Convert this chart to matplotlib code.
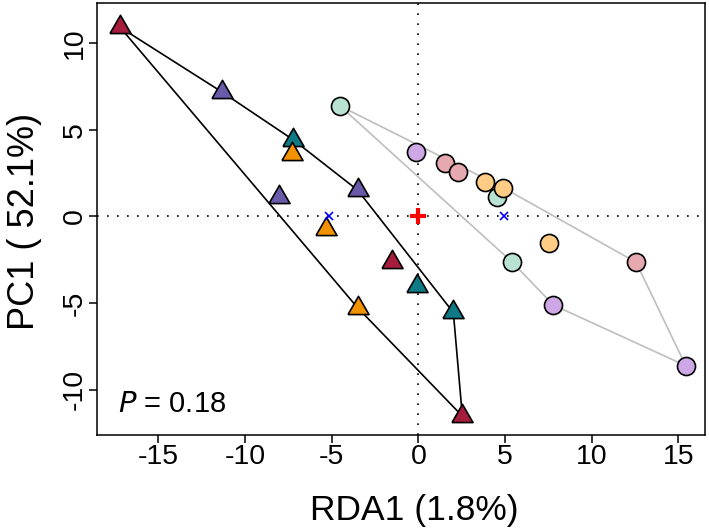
import matplotlib.pyplot as plt
import numpy as np

plt.rcParams["font.family"] = ["Liberation Sans", "DejaVu Sans"]

# triangle groups (x = RDA1, y = PC1)
tri_groups = ["crimson", "purple", "teal", "orange"]
tri_colors = ["#A51C3C", "#6A5AAA", "#0E7A86", "#F39200"]
tri_x = [
    [-17.21, -1.50, 2.54],
    [-11.31, -8.04, -3.50],
    [-7.21, -0.09, 2.02],
    [-7.27, -5.33, -3.50],
]
tri_y = [
    [10.92, -2.60, -11.52],
    [7.17, 1.10, 1.52],
    [4.42, -4.01, -5.54],
    [3.59, -0.72, -5.27],
]

# circle groups
circ_groups = ["mint", "lavender", "pink", "peach"]
circ_colors = ["#B8E3D2", "#CDA7E6", "#E6A9B0", "#FFCC85"]
circ_x = [
    [-4.52, 4.52, 5.42],
    [-0.15, 7.79, 15.43],
    [1.54, 2.27, 12.56],
    [3.85, 4.90, 7.54],
]
circ_y = [
    [6.38, 1.11, -2.64],
    [3.74, -5.11, -8.61],
    [3.07, 2.59, -2.64],
    [2.01, 1.66, -1.55],
]

# hull outlines
tri_hull_x = [-17.21, -11.31, -7.21, -3.50, 2.02, 2.54, -3.50, -17.21]
tri_hull_y = [10.92, 7.17, 4.42, 1.52, -5.54, -11.52, -5.27, 10.92]
circ_hull_x = [-4.52, 4.90, 12.56, 15.43, 7.79, 5.42, -4.52]
circ_hull_y = [6.38, 1.66, -2.64, -8.61, -5.11, -2.64, 6.38]

# group centroids
cent_x = [-5.13, 4.96]
cent_y = [0.0, 0.0]

xticks = [-15, -10, -5, 0, 5, 10, 15]
yticks = [-10, -5, 0, 5, 10]

# equilateral triangle marker centred on its centroid
tri_marker = [(-1, -0.577), (1, -0.577), (0, 1.155), (-1, -0.577)]

fig = plt.figure(figsize=(7.09, 5.32), dpi=100)
ax = fig.add_axes([97 / 709, 97 / 532, 608 / 709, 432 / 532])

ax.axhline(0, color="black", lw=1.2, ls=(0, (1, 5)), zorder=1)
ax.axvline(0, color="black", lw=1.2, ls=(0, (1, 5)), zorder=1)

ax.plot(circ_hull_x, circ_hull_y, color="#BEBEBE", lw=1.2, zorder=2)
ax.plot(tri_hull_x, tri_hull_y, color="black", lw=1.2, zorder=2)

for xs, ys, c in zip(circ_x, circ_y, circ_colors):
    ax.plot(xs, ys, ls="none", marker="o", ms=13, mfc=c, mec="black",
            mew=1.2, zorder=3)
for xs, ys, c in zip(tri_x, tri_y, tri_colors):
    ax.plot(xs, ys, ls="none", marker=tri_marker, ms=17.5, mfc=c, mec="black",
            mew=1.2, zorder=3)

ax.plot(cent_x, cent_y, ls="none", marker="x", ms=5.5, mew=1.2,
        color="blue", zorder=4)
ax.plot([0], [0], ls="none", marker="+", ms=11, mew=3, color="red", zorder=4)

ax.set_xlim(-18.54, 16.54)
ax.set_ylim(-12.61, 12.32)
ax.set_xticks(xticks)
ax.set_yticks(yticks)
ax.set_xticklabels([str(t) for t in xticks])
ax.set_yticklabels([str(t) for t in yticks], rotation=90, va="center")
ax.tick_params(axis="both", direction="out", length=5.5, width=1.1,
               labelsize=20.5, pad=1)
for s in ax.spines.values():
    s.set_linewidth(1.1)

ax.set_xlabel("RDA1 (1.8%)", fontsize=25.5, va="baseline")
ax.xaxis.set_label_coords((414 - 97) / 608, (435 - 520) / 432)
ax.set_ylabel("PC1 ( 52.1%)", fontsize=26, va="baseline")
ax.yaxis.set_label_coords((34 - 97) / 608, (435 - 221) / 432)

# P value, placed in pixels from the bottom-left corner
ax.text(118, 532 - 412, r"$\it{P}$ = 0.18", fontsize=21, transform=None,
        va="baseline", ha="left")

fig.savefig("out.png", dpi=100)
